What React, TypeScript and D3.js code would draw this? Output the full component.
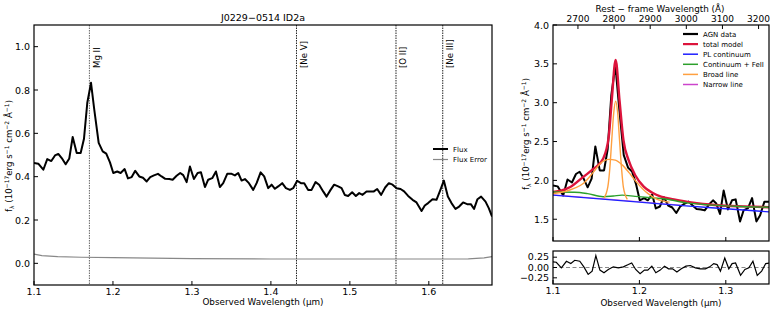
import React from 'react';
import * as d3 from 'd3';

// redshift used for the rest-frame axis and line markers
const z = 3.181;

// observed spectrum (um, 1e-17 erg/s/cm2/A)
const obsWave = [
  1.1, 1.1054, 1.1118, 1.1168, 1.1219, 1.1266, 1.1308, 1.1351, 1.1401, 1.1447,
  1.149, 1.1541, 1.1591, 1.1633, 1.1675, 1.1722, 1.1763, 1.1819, 1.187, 1.1915,
  1.1962, 1.2004, 1.2054, 1.2097, 1.2148, 1.219, 1.2237, 1.2282, 1.2333, 1.238,
  1.2427, 1.2472, 1.2519, 1.257, 1.2616, 1.2662, 1.2713, 1.2756, 1.2806, 1.2852,
  1.289, 1.2933, 1.2975, 1.3025, 1.3072, 1.3114, 1.3165, 1.3206, 1.3257, 1.3304,
  1.3354, 1.3396, 1.3447, 1.3503, 1.3544, 1.3586, 1.3629, 1.3671, 1.3722, 1.3776,
  1.3819, 1.387, 1.3915, 1.3966, 1.4009, 1.4051, 1.4092, 1.4143, 1.419, 1.4241,
  1.4282, 1.4333, 1.438, 1.4422, 1.4472, 1.4515, 1.4566, 1.4611, 1.4662, 1.4705,
  1.4756, 1.4801, 1.4852, 1.4895, 1.4937, 1.4978, 1.5029, 1.5076, 1.5118, 1.5161,
  1.5211, 1.5262, 1.5304, 1.5346, 1.5396, 1.5447, 1.5494, 1.5541, 1.5591, 1.5642,
  1.5687, 1.5738, 1.5794, 1.5844, 1.5908, 1.5949, 1.5991, 1.6047, 1.6097, 1.6143,
  1.619, 1.6241, 1.6287, 1.6338, 1.6384, 1.6434, 1.6485, 1.6532, 1.6573, 1.6616,
  1.6662, 1.6718, 1.6759, 1.6801,
];
const flux = [
  0.463, 0.46, 0.432, 0.481, 0.472, 0.498, 0.505, 0.486, 0.457, 0.484,
  0.583, 0.509, 0.509, 0.575, 0.741, 0.833, 0.71, 0.556, 0.517, 0.506,
  0.466, 0.417, 0.424, 0.417, 0.435, 0.392, 0.398, 0.427, 0.401, 0.395,
  0.378, 0.398, 0.406, 0.413, 0.401, 0.39, 0.389, 0.386, 0.404, 0.417,
  0.407, 0.375, 0.447, 0.389, 0.417, 0.42, 0.352, 0.386, 0.393, 0.424,
  0.352, 0.37, 0.413, 0.413, 0.406, 0.417, 0.382, 0.389, 0.37, 0.339,
  0.37, 0.42, 0.401, 0.347, 0.363, 0.344, 0.355, 0.37, 0.347, 0.339,
  0.347, 0.381, 0.37, 0.37, 0.339, 0.339, 0.375, 0.363, 0.332, 0.308,
  0.339, 0.363, 0.355, 0.347, 0.315, 0.311, 0.328, 0.311, 0.324, 0.316,
  0.332, 0.332, 0.332, 0.343, 0.316, 0.35, 0.37, 0.363, 0.347, 0.343,
  0.332, 0.311, 0.293, 0.281, 0.242, 0.267, 0.278, 0.296, 0.293, 0.336,
  0.382, 0.308, 0.278, 0.251, 0.262, 0.281, 0.273, 0.273, 0.251, 0.296,
  0.308, 0.285, 0.255, 0.216,
];

const errWave = [1.1, 1.11, 1.13, 1.16, 1.2, 1.3, 1.4, 1.5, 1.6, 1.65, 1.67, 1.68];
const fluxErr = [0.043, 0.036, 0.031, 0.028, 0.026, 0.022, 0.02, 0.02, 0.02, 0.021, 0.025, 0.031];

// emission line markers
const lineNames = ['Mg II', '[Ne V]', '[O II]', '[Ne III]'];
const lineRest = [2798.75, 3426.0, 3727.4, 3869.0];

// fit components (rest-frame flux)
const plWave = [1.1, 1.15, 1.2, 1.25, 1.3, 1.35];
const plFlux = [1.81, 1.765, 1.72, 1.675, 1.635, 1.595];

const feWave = [1.1, 1.125, 1.14, 1.158, 1.17, 1.18, 1.195, 1.21, 1.23, 1.255, 1.28, 1.31, 1.35];
const feFlux = [1.85, 1.848, 1.83, 1.79, 1.8, 1.81, 1.795, 1.78, 1.76, 1.71, 1.685, 1.668, 1.655];

const broadWave = [1.1, 1.115, 1.125, 1.135, 1.147, 1.155, 1.165, 1.172, 1.18, 1.188, 1.195, 1.203, 1.21, 1.22, 1.235];
const broadFlux = [1.83, 1.86, 1.9, 1.96, 2.11, 2.22, 2.27, 2.26, 2.2, 2.1, 2.0, 1.9, 1.83, 1.76, 1.72];

const narrowWave = [1.159, 1.1635, 1.1658, 1.168, 1.1703, 1.1725, 1.1748, 1.177, 1.1793, 1.1815, 1.186];
const narrowFlux = [1.772, 1.92, 2.16, 2.52, 2.87, 3.02, 2.87, 2.52, 2.16, 1.91, 1.755];

const totalWave = [1.1, 1.11, 1.12, 1.135, 1.147, 1.158, 1.1645, 1.168, 1.1725, 1.177, 1.1815, 1.1875, 1.195, 1.205, 1.215, 1.225, 1.24, 1.26, 1.29, 1.32, 1.35];
const totalFlux = [1.85, 1.87, 1.915, 2.045, 2.15, 2.28, 2.56, 3.03, 3.55, 3.03, 2.52, 2.26, 2.07, 1.92, 1.84, 1.79, 1.755, 1.715, 1.68, 1.665, 1.655];

const nlWave = [1.1, 1.15, 1.2, 1.25];
const nlFlux = [1.815, 1.77, 1.725, 1.68];

const resWave = [
  1.1, 1.1038, 1.1097, 1.1155, 1.1206, 1.1252, 1.131, 1.1357, 1.1407, 1.1453,
  1.1496, 1.1543, 1.159, 1.164, 1.1698, 1.1756, 1.1814, 1.1872, 1.1911, 1.1957,
  1.2008, 1.2058, 1.2097, 1.2144, 1.219, 1.2241, 1.2291, 1.2337, 1.2384, 1.2434,
  1.2485, 1.2539, 1.259, 1.2648, 1.2705, 1.2764, 1.2814, 1.286, 1.2899, 1.2938,
  1.2988, 1.3035, 1.3073, 1.3113, 1.3171, 1.3221, 1.3267, 1.3314, 1.3364, 1.3415,
  1.3462, 1.352,
];
const resid = [
  0.135, 0.127, -0.008, 0.151, 0.095, 0.175, 0.151, 0.016, -0.167, -0.087,
  0.286, -0.063, -0.127, -0.048, 0.016, -0.008, 0.016, 0.071, 0.111, -0.048,
  -0.151, -0.063, -0.063, 0.032, -0.127, -0.063, 0.032, -0.032, -0.032, -0.111,
  -0.032, 0.032, 0.048, -0.008, -0.032, -0.032, 0.016, 0.095, 0.071, -0.087,
  0.23, -0.032, 0.095, 0.111, -0.19, -0.048, -0.008, 0.151, -0.19, -0.087,
  0.095, 0.111,
];

const leftXTicks = [1.1, 1.2, 1.3, 1.4, 1.5, 1.6];
const leftYTicks = [0.0, 0.2, 0.4, 0.6, 0.8, 1.0];
const rightXTicks = [1.1, 1.2, 1.3];
const rightYTicks = [1.5, 2.0, 2.5, 3.0, 3.5, 4.0];
const restTicks = [2700, 2800, 2900, 3000, 3100, 3200];
const resTicks = [-0.25, 0, 0.25];

const legendRight = [
  { label: 'AGN data', color: '#000000', w: 2.2 },
  { label: 'total model', color: '#dc143c', w: 2.2 },
  { label: 'PL continuum', color: '#1f1fff', w: 1.5 },
  { label: 'Continuum + FeII', color: '#2ca02c', w: 1.5 },
  { label: 'Broad line', color: '#ffa040', w: 1.5 },
  { label: 'Narrow line', color: '#cc44cc', w: 1.5 },
];

const FONT = 'DejaVu Sans';
const fmtMinus = (s: string) => s.replace('-', '\u2212');

function YLabel({ x, y }: { x: number; y: number }) {
  return (
    <text transform={`translate(${x},${y}) rotate(-90)`} textAnchor="middle" fontSize={8.6} fontFamily={FONT}>
      <tspan>f</tspan>
      <tspan fontSize={6} dy={2}>λ</tspan>
      <tspan dy={-2}> (10</tspan>
      <tspan fontSize={6} dy={-3.5}>−17</tspan>
      <tspan dy={3.5}>erg s</tspan>
      <tspan fontSize={6} dy={-3.5}>−1</tspan>
      <tspan dy={3.5}> cm</tspan>
      <tspan fontSize={6} dy={-3.5}>−2</tspan>
      <tspan dy={3.5}> Å</tspan>
      <tspan fontSize={6} dy={-3.5}>−1</tspan>
      <tspan dy={3.5}>)</tspan>
    </text>
  );
}

export default function App() {
  const xL = d3.scaleLinear().domain([1.1, 1.68]).range([34, 492]);
  const yL = d3.scaleLinear().domain([-0.1, 1.1]).range([285, 25]);
  const xR = d3.scaleLinear().domain([1.1, 1.35]).range([553, 769]);
  const yR = d3.scaleLinear().domain([1.22, 4.0]).range([241, 25]);
  const yRes = d3.scaleLinear().domain([-0.4, 0.4]).range([284, 251]);

  const lineL = (xs: number[], ys: number[]) =>
    d3.line<number>().x((d) => xL(xs[d])).y((d) => yL(ys[d]))(d3.range(xs.length)) || '';
  const lineR = (xs: number[], ys: number[], smooth = false) => {
    const g = d3.line<number>().x((d) => xR(xs[d])).y((d) => yR(ys[d]));
    if (smooth) g.curve(d3.curveMonotoneX);
    return g(d3.range(xs.length)) || '';
  };
  const restFlux = flux.map((f) => f * (1 + z));
  const resPath = d3.line<number>().x((d) => xR(resWave[d])).y((d) => yRes(resid[d]))(d3.range(resWave.length)) || '';

  const [lx0, lx1] = xL.range();
  const [ly1, ly0] = yL.range();
  const [rx0, rx1] = xR.range();
  const [ry1, ry0] = yR.range();
  const [sy1, sy0] = yRes.range();

  return (
    <svg width={773} height={312} style={{ position: 'absolute', left: 0, top: 0, background: '#fff' }} fontFamily={FONT}>
      <defs>
        <clipPath id="clipL"><rect x={lx0} y={ly0} width={lx1 - lx0} height={ly1 - ly0} /></clipPath>
        <clipPath id="clipR"><rect x={rx0} y={ry0} width={rx1 - rx0} height={ry1 - ry0} /></clipPath>
        <clipPath id="clipS"><rect x={rx0} y={sy0} width={rx1 - rx0} height={sy1 - sy0} /></clipPath>
      </defs>

      {/* ---------- left panel ---------- */}
      <text x={(lx0 + lx1) / 2} y={21} textAnchor="middle" fontSize={9.5}>J0229−0514 ID2a</text>
      <g clipPath="url(#clipL)">
        {lineRest.map((r, i) => (
          <line key={i} x1={xL((r * (1 + z)) / 1e4)} x2={xL((r * (1 + z)) / 1e4)} y1={ly0} y2={ly1}
            stroke={i === 0 ? '#666' : '#222'} strokeWidth={1} strokeDasharray="1.5,1" />
        ))}
        <path d={lineL(errWave, fluxErr)} fill="none" stroke="#888" strokeWidth={1.2} />
        <path d={lineL(obsWave, flux)} fill="none" stroke="#000" strokeWidth={2} strokeLinejoin="round" />
      </g>
      {lineNames.map((n, i) => (
        <text key={n} transform={`translate(${xL((lineRest[i] * (1 + z)) / 1e4) + 10.5},68) rotate(-90)`} fontSize={8.6}>{n}</text>
      ))}
      <rect x={lx0} y={ly0} width={lx1 - lx0} height={ly1 - ly0} fill="none" stroke="#000" strokeWidth={1.2} />
      {leftXTicks.map((t) => (
        <g key={t}>
          <line x1={xL(t)} x2={xL(t)} y1={ly1} y2={ly1 - 4} stroke="#000" />
          <text x={xL(t)} y={295} textAnchor="middle" fontSize={9.5}>{t.toFixed(1)}</text>
        </g>
      ))}
      {leftYTicks.map((t) => (
        <g key={t}>
          <line x1={lx0} x2={lx0 + 4} y1={yL(t)} y2={yL(t)} stroke="#000" />
          <text x={30} y={yL(t) + 3.5} textAnchor="end" fontSize={9.5}>{t.toFixed(1)}</text>
        </g>
      ))}
      <text x={(lx0 + lx1) / 2} y={305} textAnchor="middle" fontSize={8.8}>Observed Wavelength (μm)</text>
      <YLabel x={12} y={156} />
      <line x1={433} x2={448} y1={149} y2={149} stroke="#000" strokeWidth={2} />
      <text x={453} y={151.5} fontSize={7}>Flux</text>
      <line x1={433} x2={448} y1={159.5} y2={159.5} stroke="#888" strokeWidth={1.2} />
      <text x={453} y={162} fontSize={7}>Flux Error</text>

      {/* ---------- right panel ---------- */}
      <g clipPath="url(#clipR)">
        <path d={lineR(obsWave, restFlux)} fill="none" stroke="#000" strokeWidth={2} strokeLinejoin="round" />
        <path d={lineR(totalWave, totalFlux, true)} fill="none" stroke="#dc143c" strokeWidth={2.4} />
        <path d={lineR(nlWave, nlFlux, true)} fill="none" stroke="#cc44cc" strokeWidth={1.2} opacity={0.7} />
        <path d={lineR(plWave, plFlux, true)} fill="none" stroke="#1f1fff" strokeWidth={1.4} />
        <path d={lineR(feWave, feFlux, true)} fill="none" stroke="#2ca02c" strokeWidth={1.4} />
        <path d={lineR(broadWave, broadFlux, true)} fill="none" stroke="#ffa040" strokeWidth={1.4} />
        <path d={lineR(narrowWave, narrowFlux, true)} fill="none" stroke="#ffa040" strokeWidth={1.4} />
      </g>
      <rect x={rx0} y={ry0} width={rx1 - rx0} height={ry1 - ry0} fill="none" stroke="#000" strokeWidth={1.2} />
      {rightXTicks.map((t) => (
        <line key={t} x1={xR(t)} x2={xR(t)} y1={ry1} y2={ry1 - 4} stroke="#000" />
      ))}
      {rightYTicks.map((t) => (
        <g key={t}>
          <line x1={rx0} x2={rx0 + 4} y1={yR(t)} y2={yR(t)} stroke="#000" />
          <text x={549} y={yR(t) + 3.5} textAnchor="end" fontSize={9.5}>{t.toFixed(1)}</text>
        </g>
      ))}
      {restTicks.map((t) => {
        const px = xR((t * (1 + z)) / 1e4);
        return (
          <g key={t}>
            <line x1={px} x2={px} y1={ry0} y2={ry0 + 4} stroke="#000" />
            <text x={px} y={22} textAnchor="middle" fontSize={9}>{t}</text>
          </g>
        );
      })}
      <text x={660} y={11.5} textAnchor="middle" fontSize={8.8}>Rest − frame Wavelength (Å)</text>
      <YLabel x={529} y={134} />
      {legendRight.map((l, i) => (
        <g key={l.label}>
          <line x1={683} x2={698} y1={34 + i * 10.1} y2={34 + i * 10.1} stroke={l.color} strokeWidth={l.w} />
          <text x={703} y={36.5 + i * 10.1} fontSize={7}>{l.label}</text>
        </g>
      ))}

      {/* ---------- residual panel ---------- */}
      <line x1={rx0} x2={rx1} y1={yRes(0)} y2={yRes(0)} stroke="#888" strokeWidth={1} strokeDasharray="4,2.5" />
      <g clipPath="url(#clipS)">
        <path d={resPath} fill="none" stroke="#000" strokeWidth={1.2} />
      </g>
      <rect x={rx0} y={sy0} width={rx1 - rx0} height={sy1 - sy0} fill="none" stroke="#000" strokeWidth={1.2} />
      {resTicks.map((t) => (
        <g key={t}>
          <line x1={rx0} x2={rx0 + 4} y1={yRes(t)} y2={yRes(t)} stroke="#000" />
          <text x={549} y={yRes(t) + 3.3} textAnchor="end" fontSize={9.5}>{fmtMinus(t.toFixed(2))}</text>
        </g>
      ))}
      {rightXTicks.map((t) => (
        <g key={t}>
          <line x1={xR(t)} x2={xR(t)} y1={sy1} y2={sy1 - 4} stroke="#000" />
          <text x={xR(t)} y={294} textAnchor="middle" fontSize={9.5}>{t.toFixed(1)}</text>
        </g>
      ))}
      <text x={(rx0 + rx1) / 2} y={305.5} textAnchor="middle" fontSize={8.8}>Observed Wavelength (μm)</text>
    </svg>
  );
}
